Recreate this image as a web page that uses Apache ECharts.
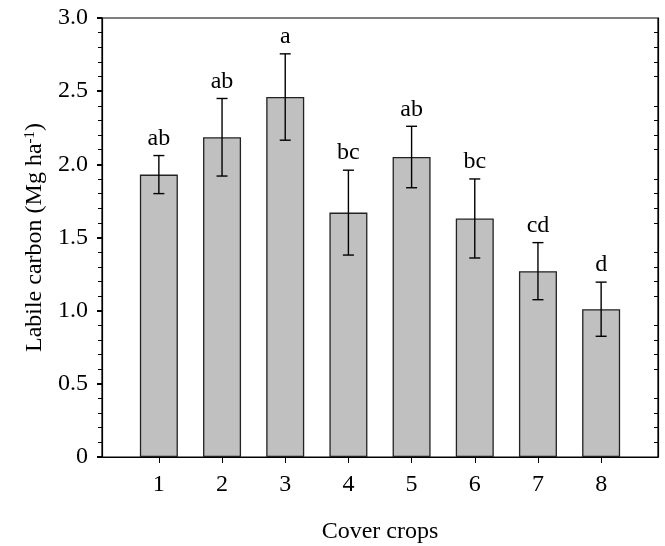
<!DOCTYPE html>
<html><head><meta charset="utf-8">
<script src="https://cdn.jsdelivr.net/npm/echarts@6/dist/echarts.min.js"></script>
<style>html,body{margin:0;padding:0;background:#fff}#c{width:665px;height:546px}</style>
</head><body><div id="c"></div>
<script>
const categories = [1, 2, 3, 4, 5, 6, 7, 8];
const means = [1.93, 2.185, 2.46, 1.67, 2.05, 1.63, 1.27, 1.01];
const errors = [0.13, 0.265, 0.295, 0.29, 0.21, 0.27, 0.195, 0.185];
const letters = ['ab', 'ab', 'a', 'bc', 'ab', 'bc', 'cd', 'd'];
const yTickLabels = ['0', '0.5', '1.0', '1.5', '2.0', '2.5', '3.0'];

const FONT = "'Liberation Serif', 'Times New Roman', serif";
const chart = echarts.init(document.getElementById('c'), null, {renderer: 'canvas'});

const barData = categories.map((c, i) => [c, means[i]]);
const errData = categories.map((c, i) => [c, means[i] - errors[i], means[i] + errors[i], i]);

const option = {
  animation: false,
  backgroundColor: '#fff',
  grid: {left: 102, right: 7, top: 18, bottom: 89, outerBoundsMode: 'none', containLabel: false,
    show: true, borderColor: '#000', borderWidth: 1.2, backgroundColor: 'transparent'},
  xAxis: [{
    type: 'value', min: 0.1, max: 8.9,
    name: 'Cover crops', nameLocation: 'middle', nameGap: 63,
    nameTextStyle: {fontFamily: FONT, fontSize: 24, color: '#000'},
    axisLine: {show: true, lineStyle: {color: '#000', width: 1.2}},
    axisTick: {show: true, length: 6, lineStyle: {color: '#000', width: 1}, customValues: categories},
    axisLabel: {show: true, margin: 16, fontFamily: FONT, fontSize: 24, color: '#000', customValues: categories, formatter: v => String(v)},
    splitLine: {show: false}
  }],
  yAxis: [{
    type: 'value', min: 0, max: 3, interval: 0.5, position: 'left',
    name: 'Labile carbon (Mg ha{sup|-1})', nameLocation: 'middle', nameGap: 54, nameRotate: 90,
    nameTextStyle: {fontFamily: FONT, fontSize: 24, color: '#000',
      rich: {sup: {fontFamily: FONT, fontSize: 15, color: '#000', verticalAlign: 'top', padding: [0, 0, 10, 0]}}},
    axisLine: {show: true, lineStyle: {color: '#000', width: 1.2}},
    axisTick: {show: true, length: 5, lineStyle: {color: '#000', width: 2}},
    minorTick: {show: true, splitNumber: 5, length: 4, lineStyle: {color: '#000', width: 1}},
    axisLabel: {margin: 14, fontFamily: FONT, fontSize: 24, color: '#000',
      formatter: v => yTickLabels[Math.round(v / 0.5)]},
    splitLine: {show: false}, minorSplitLine: {show: false}
  }, {
    type: 'value', min: 0, max: 3, interval: 0.5, position: 'right',
    axisLine: {show: true, lineStyle: {color: '#000', width: 1.2}},
    axisTick: {show: false, inside: true},
    minorTick: {show: true, splitNumber: 5, length: 4, lineStyle: {color: '#000', width: 1}},
    axisLabel: {show: false},
    splitLine: {show: false}, minorSplitLine: {show: false}
  }],
  series: [{
    type: 'bar', data: barData, barWidth: 38,
    itemStyle: {color: '#c0c0c0', borderColor: '#222', borderWidth: 1.3}
  }, {
    type: 'custom', data: errData, z: 10,
    encode: {x: 0, y: [1, 2]},
    renderItem: function (params, api) {
      const x = api.value(0);
      const lo = api.coord([x, api.value(1)]);
      const hi = api.coord([x, api.value(2)]);
      const i = api.value(3);
      const cap = 5.5;
      const style = {stroke: '#000', lineWidth: 1.4};
      return {
        type: 'group',
        children: [
          {type: 'line', shape: {x1: hi[0], y1: hi[1], x2: lo[0], y2: lo[1]}, style},
          {type: 'line', shape: {x1: hi[0] - cap, y1: hi[1], x2: hi[0] + cap, y2: hi[1]}, style},
          {type: 'line', shape: {x1: lo[0] - cap, y1: lo[1], x2: lo[0] + cap, y2: lo[1]}, style},
          {type: 'text', x: hi[0], y: hi[1] - 5,
            style: {text: letters[i], font: "24px 'Liberation Serif', serif", fill: '#000', align: 'center', verticalAlign: 'bottom'}}
        ]
      };
    }
  }]
};
chart.setOption(option);
</script></body></html>
